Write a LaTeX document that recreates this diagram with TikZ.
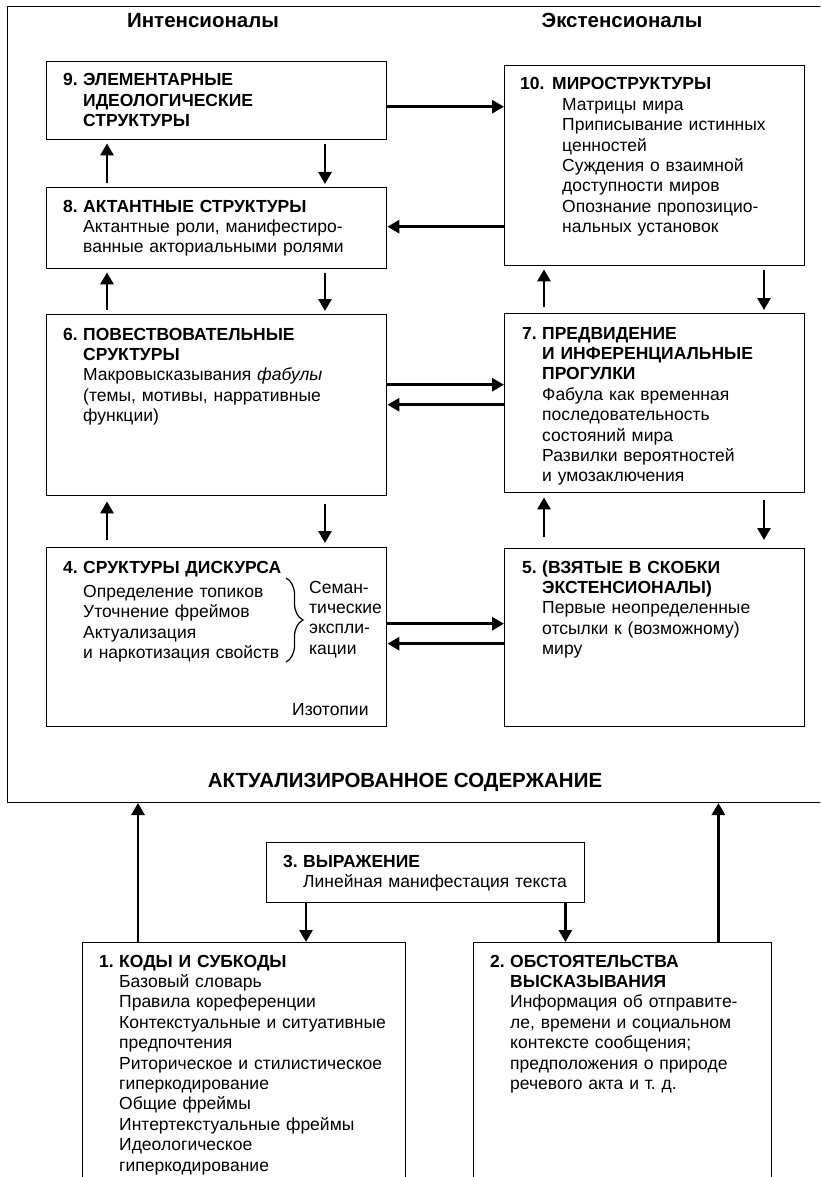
\documentclass[tikz,border=0pt]{standalone}
\usepackage{fontspec}
\setmainfont{Liberation Sans}
\usepackage{tikz}
\usetikzlibrary{positioning, arrows.meta, decorations.pathreplacing}
\frenchspacing
\tikzset{
box/.style={
  draw,
  rectangle,
  line width=1.4pt,
  anchor=north west,
  inner sep=0pt
  },
txt/.style={anchor=base west, align=left, inner sep=0pt, text width=#1},
txt/.default=300pt,
head/.style={anchor=base, inner sep=0pt, font=\fontsize{20.5}{24}\selectfont\bfseries},
line/.style={-{Triangle[length=12pt,width=13pt]}, line width=2.8pt},
vline/.style={line, shorten <=4pt, shorten >=3pt}
}
\newcommand{\boxno}[1]{\makebox[20pt][l]{\bfseries #1}}
\newcommand{\hin}{\hspace*{20pt}}

\begin{document}
\begin{tikzpicture}[x=1pt, y=1pt, font=\fontsize{17.5}{20.4}\selectfont]
\useasboundingbox (0,0) rectangle (820,-1177);
\clip (0,0) rectangle (820,-1177);

% outer frame and headings
\node[box, line width=1.3pt, minimum width=830pt, minimum height=796pt] (frame) at (7,-5.7) {};
\node[head] (hIn) at (203,-28) {Интенсионалы};
\node[head] (hEx) at (622,-28) {Экстенсионалы};
\node[head] (hAct) at (405,-787) {АКТУАЛИЗИРОВАННОЕ СОДЕРЖАНИЕ};

% left column
\node[box, minimum width=340pt, minimum height=78pt] (b9) at (46,-61) {};
\node[box, minimum width=340pt, minimum height=81pt] (b8) at (46,-187) {};
\node[box, minimum width=340pt, minimum height=181pt] (b6) at (46,-314) {};
\node[box, minimum width=340pt, minimum height=179pt] (b4) at (46,-547) {};

% right column
\node[box, minimum width=300pt, minimum height=200pt] (b10) at (504,-65) {};
\node[box, minimum width=300pt, minimum height=179pt] (b7) at (504,-313) {};
\node[box, minimum width=300pt, minimum height=178pt] (b5) at (504,-548) {};

% bottom row
\node[box, minimum width=318pt, minimum height=60pt] (b3) at (266,-842) {};
\node[box, minimum width=323pt, minimum height=260pt] (b1) at (82,-942) {};
\node[box, minimum width=298pt, minimum height=260pt] (b2) at (473,-942) {};

% texts
\node[txt=320pt] (t9) at ([shift={(17,-25)}]b9.north west)
  {\boxno{9.}\textbf{ЭЛЕМЕНТАРНЫЕ}\\ \hin\textbf{ИДЕОЛОГИЧЕСКИЕ}\\ \hin\textbf{СТРУКТУРЫ}};
\node[txt=320pt] (t8) at ([shift={(17,-25)}]b8.north west)
  {\boxno{8.}\textbf{АКТАНТНЫЕ СТРУКТУРЫ}\\ \hin Актантные роли, манифестиро-\\ \hin ванные акториальными ролями};
\node[txt=320pt] (t6) at ([shift={(17,-26)}]b6.north west)
  {\boxno{6.}\textbf{ПОВЕСТВОВАТЕЛЬНЫЕ}\\ \hin\textbf{СРУКТУРЫ}\\ \hin Макровысказывания \textit{фабулы}\\ \hin(темы, мотивы, нарративные\\ \hin функции)};
\node[txt=240pt] (t4) at ([shift={(17,-26)}]b4.north west)
  {\boxno{4.}\textbf{СРУКТУРЫ ДИСКУРСА}\\[4pt] \hin Определение топиков\\ \hin Уточнение фреймов\\ \hin Актуализация\\ \hin и наркотизация свойств};
\draw[line width=1.2pt, decorate, decoration={brace, amplitude=17pt}]
  ([shift={(240,-31)}]b4.north west) -- ([shift={(240,-115)}]b4.north west);
\node[txt=80pt] (t4s) at ([shift={(263,-46)}]b4.north west)
  {Семан-\\тические\\экспли-\\кации};
\node[txt=80pt] (t4i) at ([shift={(246,-168)}]b4.north west) {Изотопии};

\node[txt=285pt] (t10) at ([shift={(16,-25)}]b10.north west)
  {\makebox[32pt][l]{\bfseries 10.}\textbf{МИРОСТРУКТУРЫ}\\ \hspace*{42pt}Матрицы мира\\
   \hspace*{42pt}Приписывание истинных\\ \hspace*{42pt}ценностей\\
   \hspace*{42pt}Суждения о взаимной\\ \hspace*{42pt}доступности миров\\
   \hspace*{42pt}Опознание пропозицио-\\ \hspace*{42pt}нальных установок};
\node[txt=285pt] (t7) at ([shift={(18,-26)}]b7.north west)
  {\boxno{7.}\textbf{ПРЕДВИДЕНИЕ}\\ \hin\textbf{И ИНФЕРЕНЦИАЛЬНЫЕ}\\ \hin\textbf{ПРОГУЛКИ}\\
   \hin Фабула как временная\\ \hin последовательность\\ \hin состояний мира\\
   \hin Развилки вероятностей\\ \hin и умозаключения};
\node[txt=285pt] (t5) at ([shift={(18,-25)}]b5.north west)
  {\boxno{5.}\textbf{(ВЗЯТЫЕ В СКОБКИ}\\ \hin\textbf{ЭКСТЕНСИОНАЛЫ)}\\
   \hin Первые неопределенные\\ \hin отсылки к (возможному)\\ \hin миру};

\node[txt=300pt] (t3) at ([shift={(17,-25)}]b3.north west)
  {\boxno{3.}\textbf{ВЫРАЖЕНИЕ}\\ \hin Линейная манифестация текста};
\node[txt=305pt] (t1) at ([shift={(17,-25)}]b1.north west)
  {\boxno{1.}\textbf{КОДЫ И СУБКОДЫ}\\ \hin Базовый словарь\\ \hin Правила кореференции\\
   \hin Контекстуальные и ситуативные\\ \hin предпочтения\\
   \hin Риторическое и стилистическое\\ \hin гиперкодирование\\ \hin Общие фреймы\\
   \hin Интертекстуальные фреймы\\ \hin Идеологическое\\ \hin гиперкодирование};
\node[txt=280pt] (t2) at ([shift={(17,-25)}]b2.north west)
  {\boxno{2.}\textbf{ОБСТОЯТЕЛЬСТВА}\\ \hin\textbf{ВЫСКАЗЫВАНИЯ}\\
   \hin Информация об отправите-\\ \hin ле, времени и социальном\\
   \hin контексте сообщения;\\ \hin предположения о природе\\ \hin речевого акта и т. д.};

% vertical arrows, left column
\draw[vline] ([xshift=61pt]b8.north west) -- ([xshift=61pt]b9.south west);
\draw[vline] ([xshift=279pt]b9.south west) -- ([xshift=279pt]b8.north west);
\draw[vline] ([xshift=61pt]b6.north west) -- ([xshift=61pt]b8.south west);
\draw[vline] ([xshift=279pt]b8.south west) -- ([xshift=279pt]b6.north west);
\draw[vline, shorten <=7pt, shorten >=5pt] ([xshift=61pt]b4.north west) -- ([xshift=61pt]b6.south west);
\draw[vline, shorten <=8pt, shorten >=4pt] ([xshift=279pt]b6.south west) -- ([xshift=279pt]b4.north west);

% vertical arrows, right column
\draw[vline, shorten <=6pt] ([xshift=40pt]b7.north west) -- ([xshift=40pt]b10.south west);
\draw[vline] ([xshift=260pt]b10.south west) -- ([xshift=260pt]b7.north west);
\draw[vline, shorten <=11pt, shorten >=4pt] ([xshift=40pt]b5.north west) -- ([xshift=40pt]b7.south west);
\draw[vline, shorten <=7pt, shorten >=8pt] ([xshift=260pt]b7.south west) -- ([xshift=260pt]b5.north west);

% horizontal arrows
\draw[line] ([yshift=-6pt]b9.east) -- ([yshift=-6pt]b9.east -| b10.west);
\draw[line] ([yshift=1.5pt]b8.east -| b10.west) -- ([yshift=1.5pt]b8.east);
\draw[line] ([yshift=20.5pt]b6.east) -- ([yshift=20.5pt]b6.east -| b7.west);
\draw[line] ([yshift=0.5pt]b6.east -| b7.west) -- ([yshift=0.5pt]b6.east);
\draw[line] ([yshift=13.5pt]b4.east) -- ([yshift=13.5pt]b4.east -| b5.west);
\draw[line] ([yshift=-6.5pt]b4.east -| b5.west) -- ([yshift=-6.5pt]b4.east);

% bottom arrows
\draw[line] ([xshift=56pt]b1.north west) -- ([xshift=56pt]b1.north west |- frame.south);
\draw[line] ([xshift=-54pt]b2.north east) -- ([xshift=-54pt]b2.north east |- frame.south);
\draw[line] ([xshift=40pt]b3.south west) -- ([xshift=40pt]b3.south west |- b1.north);
\draw[line] ([xshift=-20pt]b3.south east) -- ([xshift=-20pt]b3.south east |- b2.north);
\end{tikzpicture}
\end{document}
